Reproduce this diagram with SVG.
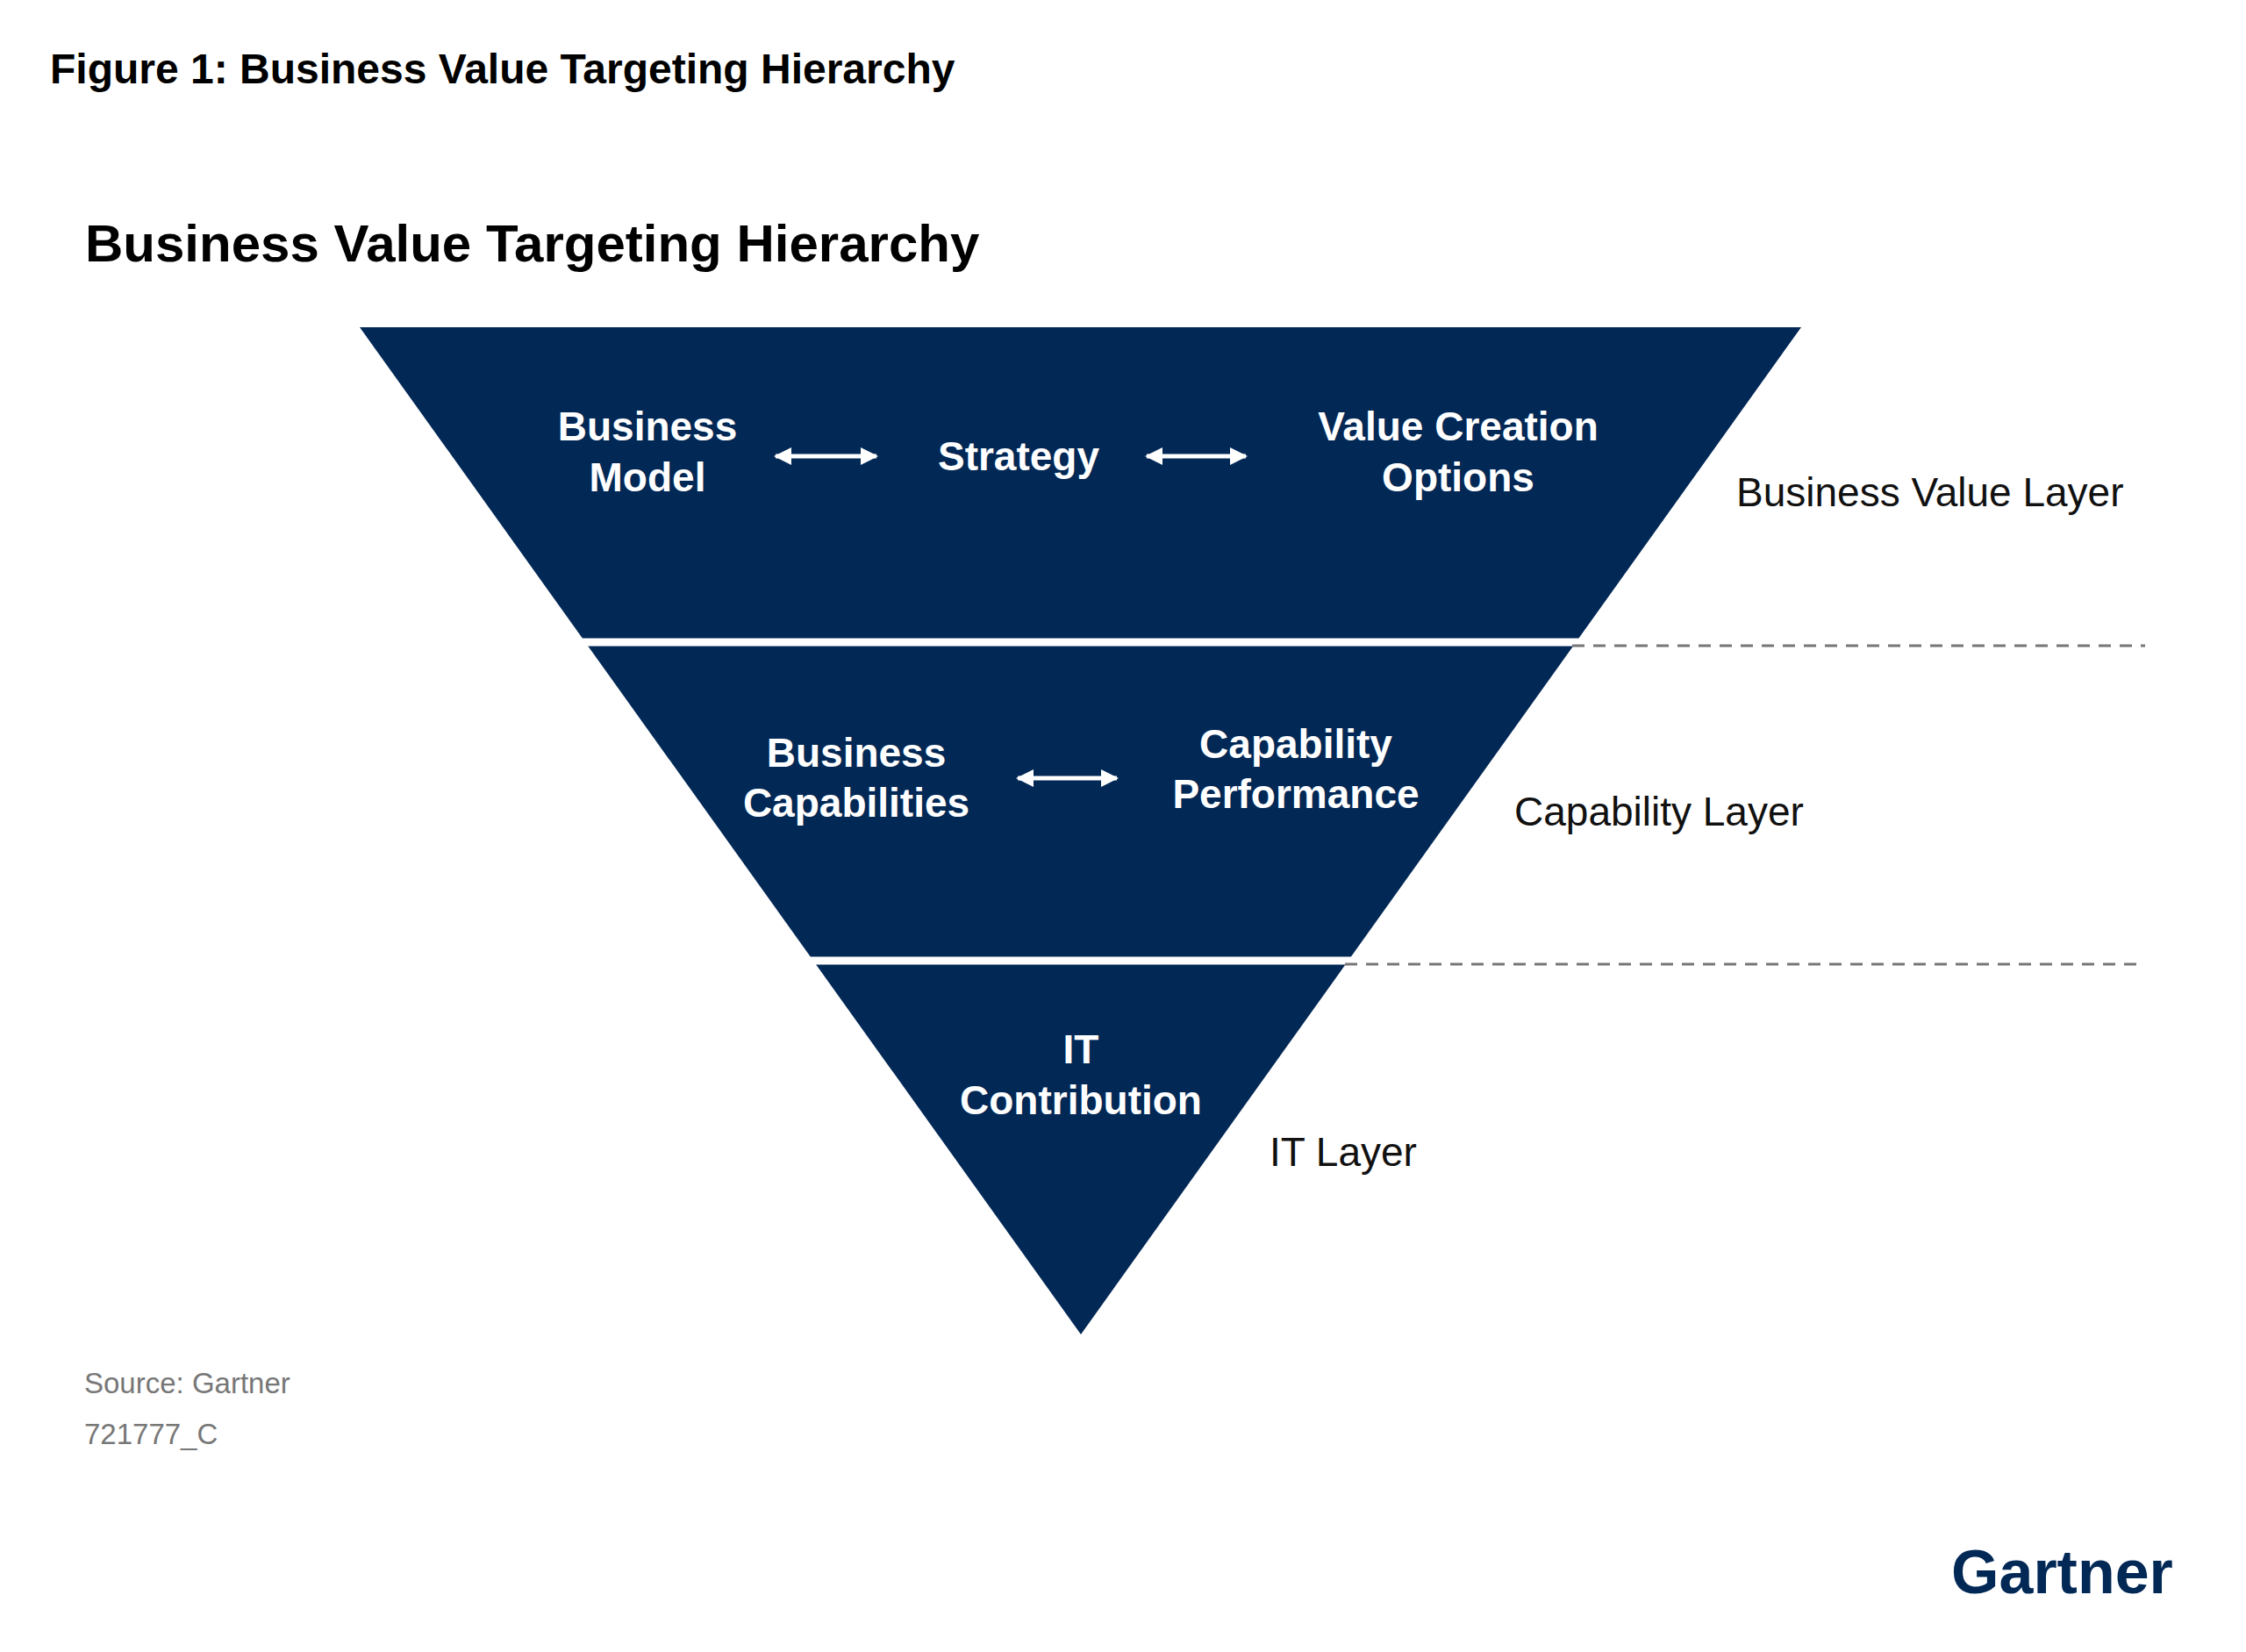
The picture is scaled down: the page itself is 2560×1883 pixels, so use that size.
<svg xmlns="http://www.w3.org/2000/svg" width="2560" height="1883" viewBox="0 0 2560 1883">
<style>
.n{font-family:"Liberation Sans",Arial,sans-serif;font-weight:bold;font-size:46px;fill:#fff;text-anchor:middle}
.l{font-family:"Liberation Sans",Arial,sans-serif;font-size:46px;fill:#111}
.s{font-family:"Liberation Sans",Arial,sans-serif;font-size:33px;fill:#777}
.a{stroke:#fff;stroke-width:5;fill:none;marker-start:url(#h);marker-end:url(#h)}
.d{stroke:#777;stroke-width:3;stroke-dasharray:14 10}
</style>
<defs><marker id="h" viewBox="0 0 10 10" refX="9" refY="5" markerWidth="4" markerHeight="5" orient="auto-start-reverse"><path d="M0,0 L10,5 L0,10 z" fill="#fff"/></marker></defs>
<rect width="2560" height="1883" fill="#fff"/>
<text x="57" y="95" font-family="Liberation Sans,Arial,sans-serif" font-weight="bold" font-size="48" fill="#000">Figure 1: Business Value Targeting Hierarchy</text>
<text x="97" y="298" font-family="Liberation Sans,Arial,sans-serif" font-weight="bold" font-size="60" fill="#000">Business Value Targeting Hierarchy</text>
<g id="pyramid"><polygon points="410,373 2053,373 1232,1521" fill="#022856"/>
<line x1="600" y1="732" x2="1860" y2="732" stroke="#fff" stroke-width="9"/>
<line x1="800" y1="1095" x2="1600" y2="1095" stroke="#fff" stroke-width="9"/></g>
<g id="connectors">
<line class="a" x1="884" y1="520" x2="999" y2="520"/>
<line class="a" x1="1307" y1="520" x2="1420" y2="520"/>
<line class="a" x1="1160" y1="887" x2="1273" y2="887"/>
<line class="d" x1="1792" y1="736" x2="2445" y2="736"/>
<line class="d" x1="1533" y1="1099" x2="2445" y2="1099"/>
</g>
<g id="n1"><text class="n" x="738" y="502">Business</text><text class="n" x="738" y="560">Model</text></g>
<g id="n2"><text class="n" x="1161" y="536">Strategy</text></g>
<g id="n3"><text class="n" x="1662" y="502">Value Creation</text><text class="n" x="1662" y="560">Options</text></g>
<g id="n4"><text class="n" x="976" y="874">Business</text><text class="n" x="976" y="931">Capabilities</text></g>
<g id="n5"><text class="n" x="1477" y="864">Capability</text><text class="n" x="1477" y="921">Performance</text></g>
<g id="n6"><text class="n" x="1232" y="1212">IT</text><text class="n" x="1232" y="1270">Contribution</text></g>
<text class="l" x="1979" y="577">Business Value Layer</text>
<text class="l" x="1726" y="941">Capability Layer</text>
<text class="l" x="1447" y="1329">IT Layer</text>
<text class="s" x="96" y="1588">Source: Gartner</text>
<text class="s" x="96" y="1646">721777_C</text>
<text x="2224" y="1816" font-family="Liberation Sans,Arial,sans-serif" font-weight="bold" font-size="70" fill="#022856">Gartner</text>
</svg>
